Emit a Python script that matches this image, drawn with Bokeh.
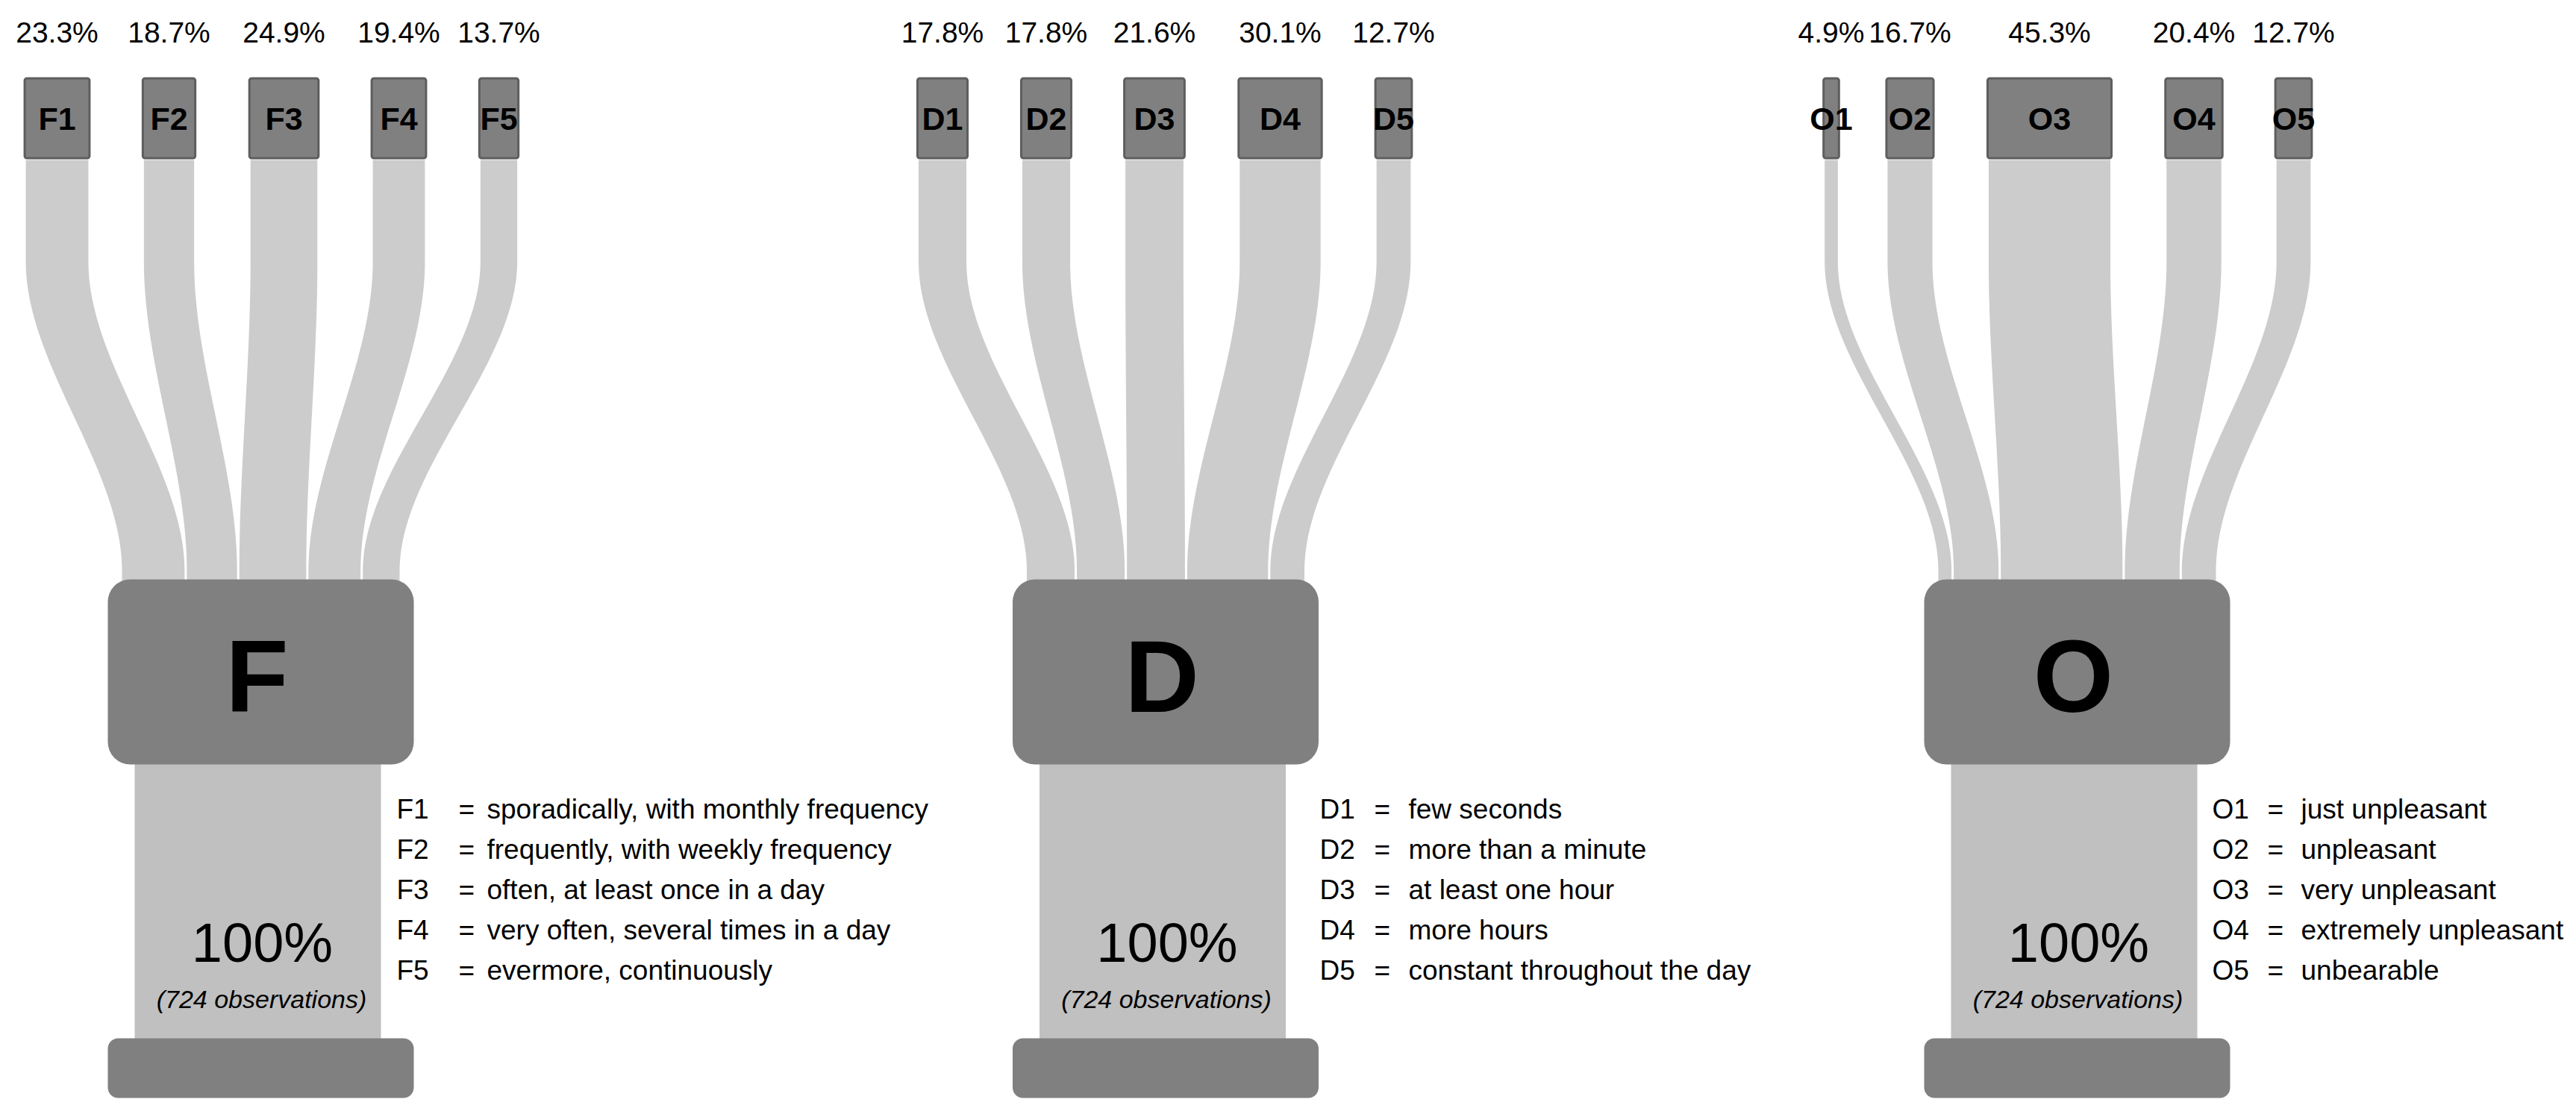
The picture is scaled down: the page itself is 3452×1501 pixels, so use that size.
import numpy as np
from bokeh.plotting import figure
from bokeh.models import Range1d
from bokeh.core.properties import value
from bokeh.embed import file_html
from bokeh.resources import INLINE

# ---------------- data ----------------
panel_names = ["F", "D", "O"]
F_codes = ["F1", "F2", "F3", "F4", "F5"]
F_pct = [23.3, 18.7, 24.9, 19.4, 13.7]
F_desc = ["sporadically, with monthly frequency", "frequently, with weekly frequency",
          "often, at least once in a day", "very often, several times in a day",
          "evermore, continuously"]
D_codes = ["D1", "D2", "D3", "D4", "D5"]
D_pct = [17.8, 17.8, 21.6, 30.1, 12.7]
D_desc = ["few seconds", "more than a minute", "at least one hour", "more hours",
          "constant throughout the day"]
O_codes = ["O1", "O2", "O3", "O4", "O5"]
O_pct = [4.9, 16.7, 45.3, 20.4, 12.7]
O_desc = ["just unpleasant", "unpleasant", "very unpleasant", "extremely unpleasant",
          "unbearable"]
observations = 724

# ---------------- layout ----------------
W, H = 3436, 1485
FONT = value("Liberation Sans")
SCALE = 3.6          # px per percent (flow width)
GAP = 3.0            # gap between flows at the bottom node
TOP_Y0, TOP_Y1 = 103, 213
NODE_Y0, NODE_Y1 = 776, 1024
COL_Y1 = 1391
BASE_Y1 = 1471
NODE_W = 410
COL_W = 330

panels = [
    dict(name="F", codes=F_codes, pct=F_pct, desc=F_desc,
         cx=[76, 226, 380, 534, 668], center=349,
         leg_x=(531, 614, 652)),
    dict(name="D", codes=D_codes, pct=D_pct, desc=D_desc,
         cx=[1262.5, 1401.5, 1546.5, 1715, 1867], center=1561.5,
         leg_x=(1768, 1841, 1887)),
    dict(name="O", codes=O_codes, pct=O_pct, desc=O_desc,
         cx=[2453.5, 2559, 2746, 2939.5, 3073], center=2783,
         leg_x=(2964, 3038, 3083)),
]

p = figure(width=W, height=H, output_backend="svg", toolbar_location=None,
           x_range=Range1d(0, W), y_range=Range1d(H, 0),
           min_border=0, outline_line_color=None)
p.axis.visible = False
p.grid.visible = False
p.background_fill_color = "white"


def flow_polygon(xt, xb, w, ytop=TOP_Y1 + 1, y0=350, y1=765, ybot=NODE_Y0 + 14):
    u = np.linspace(0, 1, 60)
    s = 3 * u ** 2 - 2 * u ** 3
    ys = np.concatenate([[ytop], y0 + (y1 - y0) * u, [ybot]])
    xc = np.concatenate([[xt], xt + (xb - xt) * s, [xb]])
    left = xc - w / 2
    right = xc + w / 2
    return (list(left) + list(right[::-1])), (list(ys) + list(ys[::-1]))


for pn in panels:
    pct = np.array(pn["pct"])
    widths = pct * SCALE
    cx = np.array(pn["cx"], dtype=float)
    c = pn["center"]
    total = widths.sum() + GAP * (len(widths) - 1)
    starts = c - total / 2 + np.concatenate([[0], np.cumsum(widths[:-1] + GAP)])
    xb = starts + widths / 2

    xs, ys = [], []
    for i in range(len(pct)):
        px, py = flow_polygon(cx[i], xb[i], widths[i])
        xs.append(px)
        ys.append(py)
    p.patches(xs=xs, ys=ys, fill_color="#cccccc", line_color=None)

    # top category boxes
    p.quad(left=cx - widths / 2 - 1.5, right=cx + widths / 2 + 1.5,
           top=TOP_Y0 + 1.5, bottom=TOP_Y1 - 1.5,
           fill_color="#808080", line_color="#5e5e5e", line_width=3, border_radius=3)

    # percent labels
    p.text(x=cx, y=[43] * len(cx), text=[f"{v:.1f}%" for v in pct],
           text_align="center", text_baseline="middle", text_font=FONT,
           text_font_size="39px", text_color="black")
    # box labels
    p.text(x=cx, y=[158] * len(cx), text=pn["codes"],
           text_align="center", text_baseline="middle", text_font=FONT,
           text_font_size="43px", text_font_style="bold", text_color="black")

    # column (100%)
    p.quad(left=[c - COL_W / 2 - 4], right=[c + COL_W / 2 - 4], top=[NODE_Y1 - 5],
           bottom=[COL_Y1 + 5], fill_color="#c0c0c0", line_color=None)
    # main node
    p.quad(left=[c - NODE_W / 2], right=[c + NODE_W / 2], top=[NODE_Y0], bottom=[NODE_Y1],
           fill_color="#808080", line_color=None, border_radius=30)
    # base
    p.quad(left=[c - NODE_W / 2], right=[c + NODE_W / 2], top=[COL_Y1], bottom=[BASE_Y1],
           fill_color="#808080", line_color=None, border_radius=14)

    p.text(x=[c - 5], y=[905], text=[pn["name"]], text_align="center",
           text_baseline="middle", text_font=FONT, text_font_size="138px",
           text_font_style="bold", text_color="black")
    p.text(x=[c + 2], y=[1263], text=[f"{int(round(sum(pct)))}%"], text_align="center",
           text_baseline="middle", text_font=FONT, text_font_size="74px", text_color="black")
    p.text(x=[c + 1], y=[1338], text=[f"({observations} observations)"], text_align="center",
           text_baseline="middle", text_font=FONT, text_font_size="34px",
           text_font_style="italic", text_color="black")

    # legend
    lx_code, lx_eq, lx_desc = pn["leg_x"]
    ly = [1084 + 54 * i for i in range(len(pn["codes"]))]
    p.text(x=[lx_code] * 5, y=ly, text=pn["codes"], text_align="left", text_baseline="middle",
           text_font=FONT, text_font_size="37px", text_color="black")
    p.text(x=[lx_eq] * 5, y=ly, text=["="] * 5, text_align="left", text_baseline="middle",
           text_font=FONT, text_font_size="37px", text_color="black")
    p.text(x=[lx_desc] * 5, y=ly, text=pn["desc"], text_align="left", text_baseline="middle",
           text_font=FONT, text_font_size="37px", text_color="black")

open("out.html", "w").write(file_html(p, INLINE))
